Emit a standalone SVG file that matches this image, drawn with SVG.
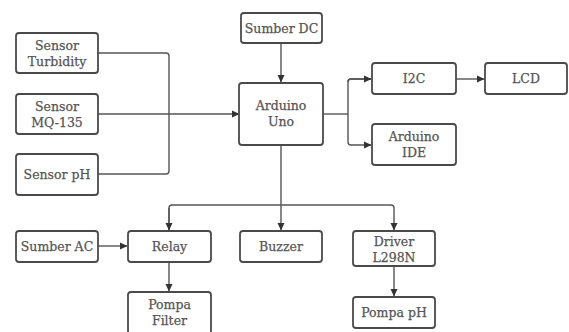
<svg xmlns="http://www.w3.org/2000/svg" width="569" height="332" viewBox="0 0 569 332">
<style>
.box{fill:#fff;stroke:#4a4a4a;stroke-width:1.8}
.lbl{font-family:"DejaVu Serif","Liberation Serif",serif;font-size:12.5px;fill:#555;stroke:#555;stroke-width:0.25;text-anchor:middle}
.con{fill:none;stroke:#555;stroke-width:1.4}
</style>
<defs>
<marker id="ah" markerWidth="8" markerHeight="8" refX="7" refY="4" orient="auto" markerUnits="userSpaceOnUse">
<path d="M0,0.5 L7.5,4 L0,7.5 Z" fill="#333"/>
</marker>
</defs>
<rect width="569" height="332" fill="#fff"/>
<g id="connectors">
<path class="con" d="M98,53 H166 Q169,53 169,56 V171 Q169,174 166,174 H98"/>
<path class="con" d="M98,114 H239" marker-end="url(#ah)"/>
<path class="con" d="M281,43 V82" marker-end="url(#ah)"/>
<path class="con" d="M323,114 H348"/>
<path class="con" d="M371,79 H351 Q348,79 348,82 V142 Q348,145 351,145 H371" marker-end="url(#ah)"/>
<path class="con" d="M348,82 Q348,79 351,79 H371" marker-end="url(#ah)"/>
<path class="con" d="M456,79 H484" marker-end="url(#ah)"/>
<path class="con" d="M281,145 V230" marker-end="url(#ah)"/>
<path class="con" d="M169,230 V208 Q169,205 172,205 H391 Q394,205 394,208 V230" marker-end="url(#ah)"/>
<path class="con" d="M169,208 V230" marker-end="url(#ah)"/>
<path class="con" d="M98,246 H127" marker-end="url(#ah)"/>
<path class="con" d="M169,262 V291" marker-end="url(#ah)"/>
<path class="con" d="M394,266 V296" marker-end="url(#ah)"/>
</g>
<g id="sensor-turbidity"><rect class="box" x="16" y="33" width="82" height="40" rx="3"/><text class="lbl" x="57" y="50">Sensor</text><text class="lbl" x="57" y="66">Turbidity</text></g>
<g id="sensor-mq135"><rect class="box" x="16" y="94" width="82" height="40" rx="3"/><text class="lbl" x="57" y="111">Sensor</text><text class="lbl" x="57" y="127">MQ-135</text></g>
<g id="sensor-ph"><rect class="box" x="16" y="154" width="82" height="41" rx="3"/><text class="lbl" x="57" y="179">Sensor pH</text></g>
<g id="sumber-dc"><rect class="box" x="241" y="13" width="81" height="30" rx="3"/><text class="lbl" x="281.5" y="33">Sumber DC</text></g>
<g id="arduino-uno"><rect class="box" x="239" y="83" width="84" height="62" rx="3"/><text class="lbl" x="281" y="110">Arduino</text><text class="lbl" x="281" y="126">Uno</text></g>
<g id="i2c"><rect class="box" x="372" y="63" width="84" height="31" rx="3"/><text class="lbl" x="414" y="83">I2C</text></g>
<g id="lcd"><rect class="box" x="485" y="63" width="82" height="31" rx="3"/><text class="lbl" x="526" y="83">LCD</text></g>
<g id="arduino-ide"><rect class="box" x="372" y="124" width="84" height="41" rx="3"/><text class="lbl" x="414" y="141">Arduino</text><text class="lbl" x="414" y="157">IDE</text></g>
<g id="sumber-ac"><rect class="box" x="16" y="231" width="82" height="31" rx="3"/><text class="lbl" x="57" y="251">Sumber AC</text></g>
<g id="relay"><rect class="box" x="128" y="231" width="83" height="31" rx="3"/><text class="lbl" x="169.5" y="251">Relay</text></g>
<g id="buzzer"><rect class="box" x="240" y="231" width="82" height="31" rx="3"/><text class="lbl" x="281" y="251">Buzzer</text></g>
<g id="driver-l298n"><rect class="box" x="353" y="231" width="82" height="35" rx="3"/><text class="lbl" x="394" y="246">Driver</text><text class="lbl" x="394" y="262">L298N</text></g>
<g id="pompa-filter"><rect class="box" x="128" y="292" width="83" height="42" rx="3"/><text class="lbl" x="169.5" y="309">Pompa</text><text class="lbl" x="169.5" y="325">Filter</text></g>
<g id="pompa-ph"><rect class="box" x="353" y="297" width="82" height="31" rx="3"/><text class="lbl" x="394" y="317">Pompa pH</text></g>
</svg>
